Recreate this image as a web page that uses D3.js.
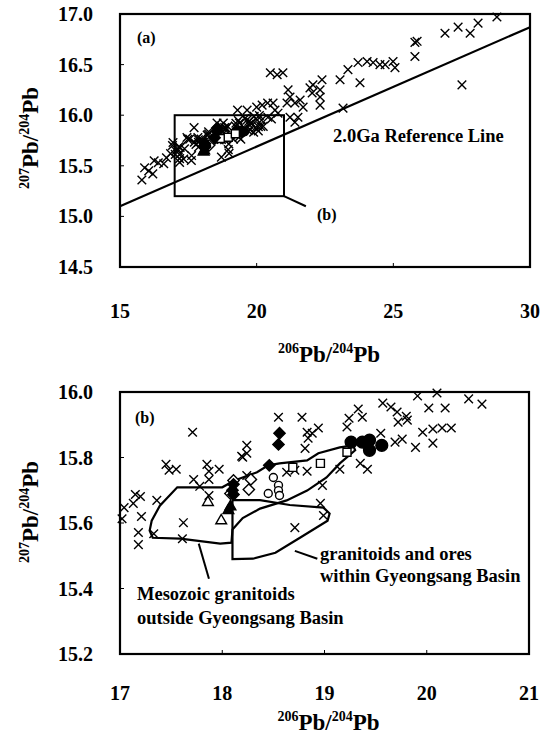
<!DOCTYPE html>
<html>
<head>
<meta charset="utf-8">
<script src="https://cdn.jsdelivr.net/npm/d3@7"></script>
<style>
  body { margin: 0; background: #fff; }
  text { font-family: "Liberation Serif", "Times New Roman", serif; font-weight: bold; fill: #000; }
</style>
</head>
<body>
<div id="chart"></div>
<script>
// Tick labels
const aXTicks = [15, 20, 25, 30];
const aYTicks = [14.5, 15.0, 15.5, 16.0, 16.5, 17.0];
const bXTicks = [17, 18, 19, 20, 21];
const bYTicks = [15.2, 15.4, 15.6, 15.8, 16.0];

// 2.0 Ga reference line (end points) and the zoom window of panel (b)
const refLineX = [15, 30];
const refLineY = [15.1, 16.87];
const insetX = [17, 21];
const insetY = [15.2, 16.0];

// crosses only visible in panel (a) (outside the (b) window)
const aCross = [
  [15.8,15.36],[15.9,15.48],[16.05,15.45],[16.2,15.42],[16.25,15.55],[16.4,15.53],[16.6,15.52],
  [16.7,15.58],[16.85,15.62],[16.92,15.70],[16.94,15.73],
  [19.3,16.05],[19.65,16.05],[20.0,16.08],[20.2,16.1],[20.4,16.12],[20.6,16.12],[20.67,16.05],[20.78,16.02],
  [20.5,16.42],[20.75,16.40],[20.96,16.42],
  [21.15,16.25],[21.22,16.18],[21.11,16.12],[21.40,16.12],[21.59,16.15],[21.70,16.08],[21.22,15.98],
  [21.40,15.93],[21.51,15.98],[21.95,16.27],[22.06,16.30],[22.32,16.25],[22.03,16.22],[22.39,16.35],
  [22.32,16.18],[22.32,16.10],[23.05,16.35],[23.34,16.45],[23.78,16.32],[23.71,16.52],[24.04,16.53],
  [24.26,16.52],[24.51,16.50],[24.70,16.50],[24.99,16.53],[25.06,16.47],[23.16,16.07],[25.79,16.72],
  [25.87,16.73],[25.79,16.58],[26.89,16.81],[27.37,16.87],[27.81,16.81],[28.10,16.91],[28.79,16.97],
  [27.51,16.30]
];

// panel (b) data, also drawn in panel (a)
const bCross = [
  [17.04,15.647],[17.02,15.613],[17.15,15.687],[17.20,15.681],[17.13,15.660],[17.21,15.620],[17.18,15.571],
  [17.18,15.534],[17.36,15.669],[17.33,15.567],[17.45,15.779],[17.48,15.761],[17.55,15.764],[17.62,15.601],
  [17.61,15.552],[17.71,15.877],[17.72,15.733],[17.78,15.712],[17.87,15.733],[17.87,15.758],[17.87,15.684],
  [17.85,15.779],[17.97,15.764],[18.19,15.804],[18.24,15.813],[18.24,15.745],[18.24,15.837],[18.20,15.801],
  [18.55,15.923],[18.78,15.923],[18.83,15.877],[18.88,15.874],[18.94,15.890],[18.84,15.859],[18.81,15.828],
  [18.63,15.755],[18.71,15.761],[18.83,15.758],[18.98,15.715],[18.96,15.660],[18.99,15.623],[18.71,15.586],
  [19.15,15.764],[19.35,15.782],[19.42,15.764],[19.24,15.920],[19.33,15.948],[19.37,15.923],[19.22,15.893],
  [19.55,15.874],[19.57,15.966],[19.65,15.954],[19.71,15.939],[19.80,15.926],[19.81,15.914],[19.72,15.908],
  [19.91,15.988],[20.10,15.997],[20.02,15.951],[20.18,15.951],[20.41,15.979],[20.54,15.963],[19.96,15.877],
  [20.06,15.887],[20.15,15.890],[20.24,15.890],[19.89,15.831],[20.06,15.844],[19.69,15.847],[19.76,15.856]
];
const bDiamondFilled = [[18.56,15.874],[18.55,15.840],[18.46,15.776],[18.10,15.700],[18.11,15.718],[18.11,15.687]];
const bDiamondOpen = [[18.11,15.730],[18.28,15.733],[18.26,15.702],[18.08,15.690]];
const bTriangleOpen = [[17.86,15.663],[17.99,15.607]];
const bTriangleFilled = [[18.06,15.638],[18.08,15.650]];
const bCircleOpen = [[18.50,15.739],[18.55,15.715],[18.55,15.699],[18.56,15.684],[18.45,15.690]];
const bSquareOpen = [[18.69,15.770],[18.96,15.782],[19.22,15.816]];
const bCircleFilled = [[19.26,15.847],[19.37,15.847],[19.44,15.853],[19.44,15.822],[19.56,15.837]];

// outlined fields in panel (b)
const mesozoicField = [
  [17.56,15.709],[18.0,15.709],[18.12,15.73],[18.34,15.755],[18.45,15.776],[18.56,15.782],[18.83,15.791],
  [18.94,15.813],[19.15,15.831],[19.28,15.837],[19.30,15.822],[19.15,15.782],[19.02,15.739],[18.83,15.699],
  [18.63,15.669],[18.37,15.644],[18.20,15.615],[18.10,15.58],[18.09,15.540],[17.98,15.537],[17.59,15.552],
  [17.32,15.555],[17.29,15.577],[17.31,15.607],[17.39,15.653]
];
const gyeongsangField = [
  [18.10,15.49],[18.10,15.67],[18.37,15.67],[18.66,15.655],[18.99,15.647],[19.05,15.629],[19.03,15.607],
  [18.76,15.555],[18.52,15.509],[18.30,15.491]
];

const width = 553, height = 739;
const svg = d3.select("#chart").append("svg")
  .attr("width", width)
  .attr("height", height);

const xA = d3.scaleLinear().domain([15, 30]).range([120, 530]);
const yA = d3.scaleLinear().domain([14.5, 17]).range([267, 14]);
const xB = d3.scaleLinear().domain([17, 21]).range([120, 529]);
const yB = d3.scaleLinear().domain([15.2, 16]).range([654, 392]);

// symbol generators
const crossSym = d3.symbol().type(d3.symbolTimes).size(50);
const circleBig = d3.symbol().type(d3.symbolCircle).size(110);
const circleSmall = d3.symbol().type(d3.symbolCircle).size(50);
const squareSym = d3.symbol().type(d3.symbolSquare).size(64);
const diamondSym = d3.symbol().type(d3.symbolSquare).size(64);
const triSym = d3.symbol().type(d3.symbolTriangle).size(50);

function drawPoints(g, data, x, y, sym, filled, rotate) {
  g.append("g").selectAll("path")
    .data(data)
    .enter().append("path")
    .attr("d", sym)
    .attr("transform", d => `translate(${x(d[0])},${y(d[1])})` + (rotate ? " rotate(45)" : ""))
    .style("fill", filled ? "#000" : "#fff")
    .style("stroke", "#000")
    .style("stroke-width", 1.4);
}

function drawCrosses(g, data, x, y) {
  g.append("g").selectAll("path")
    .data(data)
    .enter().append("path")
    .attr("d", crossSym)
    .attr("transform", d => `translate(${x(d[0])},${y(d[1])})`)
    .style("fill", "none")
    .style("stroke", "#000")
    .style("stroke-width", 1.4);
}

function drawAxes(x, y, xt, yt, fmtY, titleY, labelGap, titleGap) {
  const [x0, x1] = x.range();
  const [y0, y1] = y.range();
  // small inward ticks
  svg.append("g").selectAll("line").data(yt).enter().append("line")
    .attr("x1", x0).attr("x2", x0 + 4).attr("y1", d => y(d)).attr("y2", d => y(d))
    .style("stroke", "#000").style("stroke-width", 1);
  svg.append("g").selectAll("line").data(xt).enter().append("line")
    .attr("y1", y0).attr("y2", y0 - 4).attr("x1", d => x(d)).attr("x2", d => x(d))
    .style("stroke", "#000").style("stroke-width", 1);
  // frame
  svg.append("rect")
    .attr("x", x0).attr("y", y1).attr("width", x1 - x0).attr("height", y0 - y1)
    .style("fill", "none").style("stroke", "#000").style("stroke-width", 2.2);
  // tick labels
  svg.append("g").selectAll("text").data(yt).enter().append("text")
    .attr("x", 93).attr("y", d => y(d)).attr("dy", "0.35em")
    .style("text-anchor", "end").style("font-size", "20px")
    .text(d => fmtY(d));
  svg.append("g").selectAll("text").data(xt).enter().append("text")
    .attr("x", d => x(d)).attr("y", y0 + labelGap)
    .style("text-anchor", "middle").style("font-size", "20px")
    .text(d => d);
  // x title
  const xt1 = svg.append("text")
    .attr("x", (x0 + x1) / 2 + 4).attr("y", y0 + titleGap)
    .style("text-anchor", "middle");
  xt1.append("tspan").style("font-size", "14px").attr("dy", -9).text("206");
  xt1.append("tspan").style("font-size", "23px").attr("dy", 9).text("Pb/");
  xt1.append("tspan").style("font-size", "14px").attr("dy", -9).text("204");
  xt1.append("tspan").style("font-size", "23px").attr("dy", 9).text("Pb");
  // y title
  const yt1 = svg.append("text")
    .attr("transform", `translate(38,${titleY}) rotate(-90)`)
    .style("text-anchor", "middle");
  yt1.append("tspan").style("font-size", "14px").attr("dy", -9).text("207");
  yt1.append("tspan").style("font-size", "23px").attr("dy", 9).text("Pb/");
  yt1.append("tspan").style("font-size", "14px").attr("dy", -9).text("204");
  yt1.append("tspan").style("font-size", "23px").attr("dy", 9).text("Pb");
}

// ---------- panel (a) ----------
const gA = svg.append("g");
drawCrosses(gA, aCross, xA, yA);
drawCrosses(gA, bCross, xA, yA);
drawPoints(gA, bCircleFilled, xA, yA, circleSmall, true);
drawPoints(gA, bSquareOpen, xA, yA, squareSym, false);
drawPoints(gA, bDiamondOpen, xA, yA, diamondSym, false, true);
drawPoints(gA, bDiamondFilled, xA, yA, diamondSym, true, true);
drawPoints(gA, bTriangleFilled, xA, yA, triSym, true);

gA.append("line")
  .attr("x1", xA(refLineX[0])).attr("y1", yA(refLineY[0]))
  .attr("x2", xA(refLineX[1])).attr("y2", yA(refLineY[1]))
  .style("stroke", "#000").style("stroke-width", 2.2);

gA.append("rect")
  .attr("x", xA(insetX[0])).attr("y", yA(insetY[1]))
  .attr("width", xA(insetX[1]) - xA(insetX[0]))
  .attr("height", yA(insetY[0]) - yA(insetY[1]))
  .style("fill", "none").style("stroke", "#000").style("stroke-width", 2);
gA.append("line")
  .attr("x1", xA(insetX[1])).attr("y1", yA(insetY[0]))
  .attr("x2", xA(21.8)).attr("y2", yA(15.1))
  .style("stroke", "#000").style("stroke-width", 2);
gA.append("text").attr("x", 317).attr("y", 220).style("font-size", "16px").text("(b)");
gA.append("text").attr("x", 137).attr("y", 43).style("font-size", "16px").text("(a)");
gA.append("text").attr("x", 333).attr("y", 142).style("font-size", "18.5px").text("2.0Ga Reference Line");

drawAxes(xA, yA, aXTicks, aYTicks, d3.format(".1f"), 138, 51, 95);

// ---------- panel (b) ----------
const gB = svg.append("g");
const line = d3.line().x(d => xB(d[0])).y(d => yB(d[1])).curve(d3.curveLinearClosed);
gB.append("path").attr("d", line(mesozoicField))
  .style("fill", "none").style("stroke", "#000").style("stroke-width", 2.2);
gB.append("path").attr("d", line(gyeongsangField))
  .style("fill", "none").style("stroke", "#000").style("stroke-width", 2.2);

drawCrosses(gB, bCross, xB, yB);
drawPoints(gB, bCircleOpen, xB, yB, circleSmall, false);
drawPoints(gB, bSquareOpen, xB, yB, squareSym, false);
drawPoints(gB, bDiamondOpen, xB, yB, diamondSym, false, true);
drawPoints(gB, bDiamondFilled, xB, yB, diamondSym, true, true);
drawPoints(gB, bTriangleOpen, xB, yB, triSym, false);
drawPoints(gB, bTriangleFilled, xB, yB, triSym, true);
drawPoints(gB, bCircleFilled, xB, yB, circleBig, true);

// leaders and field labels
gB.append("line")
  .attr("x1", xB(17.77)).attr("y1", yB(15.537)).attr("x2", xB(17.87)).attr("y2", yB(15.43))
  .style("stroke", "#000").style("stroke-width", 2);
gB.append("line")
  .attr("x1", xB(18.71)).attr("y1", yB(15.515)).attr("x2", xB(18.93)).attr("y2", yB(15.491))
  .style("stroke", "#000").style("stroke-width", 2);
gB.append("text").attr("x", 320).attr("y", 560).style("font-size", "18.5px").text("granitoids and ores");
gB.append("text").attr("x", 320).attr("y", 582).style("font-size", "18.5px").text("within Gyeongsang Basin");
gB.append("text").attr("x", 137).attr("y", 600).style("font-size", "18.5px").text("Mesozoic granitoids");
gB.append("text").attr("x", 137).attr("y", 624).style("font-size", "18.5px").text("outside Gyeongsang Basin");
gB.append("text").attr("x", 135).attr("y", 423).style("font-size", "16px").text("(b)");

drawAxes(xB, yB, bXTicks, bYTicks, d3.format(".1f"), 512, 46, 76);
</script>
</body>
</html>
